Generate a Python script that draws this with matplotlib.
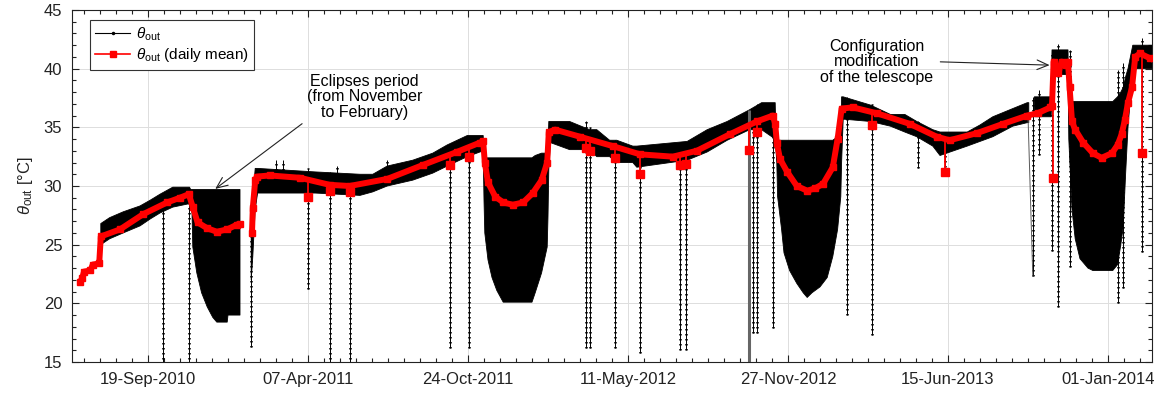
import numpy as np
import pandas as pd
import matplotlib
matplotlib.use('Agg')
import matplotlib.pyplot as plt
import matplotlib.dates as mdates
from matplotlib.lines import Line2D
from matplotlib.ticker import FixedLocator, MultipleLocator

plt.rcParams['font.family'] = ['Liberation Sans', 'DejaVu Sans']
plt.rcParams['mathtext.fontset'] = 'custom'
plt.rcParams['mathtext.rm'] = 'Liberation Sans'
plt.rcParams['mathtext.it'] = 'Liberation Sans:italic'

nan = np.nan

# daily mean of theta_out (red), NaN marks the data gap
mean_dates = ['2010-06-26', '2010-06-29', '2010-07-01', '2010-07-09', '2010-07-12', '2010-07-20',
              '2010-07-22', '2010-08-15', '2010-09-13', '2010-10-13', '2010-10-29', '2010-11-09',
              '2010-11-14', '2010-11-20', '2010-12-02', '2010-12-14', '2010-12-27', '2011-01-08',
              '2011-01-12', '2011-01-20',
              '2011-01-27', '2011-01-28', '2011-01-31', '2011-02-02', '2011-02-18', '2011-03-28',
              '2011-05-04', '2011-05-29', '2011-07-15', '2011-08-29', '2011-10-10', '2011-11-08',
              '2011-11-12', '2011-11-14', '2011-11-18', '2011-11-27', '2011-12-07', '2011-12-19',
              '2012-01-01', '2012-01-13', '2012-01-24', '2012-01-31', '2012-02-02', '2012-02-10',
              '2012-03-12', '2012-04-22', '2012-05-26', '2012-07-06', '2012-08-05', '2012-09-15',
              '2012-10-19', '2012-11-08', '2012-11-11', '2012-11-13', '2012-11-17', '2012-11-26',
              '2012-12-08', '2012-12-21', '2012-12-31', '2013-01-10', '2013-01-22', '2013-01-28',
              '2013-02-02', '2013-02-16', '2013-03-18', '2013-04-28', '2013-06-01', '2013-06-17',
              '2013-07-21', '2013-08-23', '2013-09-22', '2013-10-05', '2013-10-21', '2013-10-23',
              '2013-10-25', '2013-10-31', '2013-11-04', '2013-11-09', '2013-11-12', '2013-11-14',
              '2013-11-17', '2013-11-21', '2013-12-01', '2013-12-13', '2013-12-24', '2014-01-06',
              '2014-01-13', '2014-01-18', '2014-01-22', '2014-01-26', '2014-01-31', '2014-02-04',
              '2014-02-10', '2014-02-22', '2014-03-03']
mean_vals = [21.8, 22.2, 22.7, 22.8, 23.3, 23.4,
             25.7, 26.3, 27.6, 28.6, 29.0, 29.3,
             28.2, 26.9, 26.4, 26.1, 26.3, 26.7,
             26.8, nan,
             26.0, 28.1, 30.5, 30.8, 30.9, 30.7,
             30.1, 30.0, 30.6, 31.8, 32.9, 33.7,
             33.8, 32.0, 30.3, 29.1, 28.6, 28.4,
             28.6, 29.4, 30.5, 32.0, 34.6, 34.8,
             34.2, 33.4, 32.7, 32.5, 33.0, 34.4,
             35.5, 36.0, 35.3, 33.7, 32.3, 31.2,
             30.0, 29.6, 29.8, 30.2, 31.6, 34.0,
             36.6, 36.7, 36.2, 35.3, 34.2, 33.9,
             34.5, 35.3, 36.0, 36.2, 36.7, 36.8,
             40.6, 39.6, 40.6, 40.3, 40.6, 38.4,
             35.5, 34.8, 33.7, 32.8, 32.4, 32.8,
             33.5, 34.4, 35.6, 37.1, 38.4, 41.0,
             41.3, 40.9, 40.6]

# single days where the daily mean drops off the curve
drop_dates = ['2011-04-07', '2011-05-04', '2011-05-29', '2011-10-01', '2011-10-25', '2012-03-19',
              '2012-03-24', '2012-04-25', '2012-05-26', '2012-07-15', '2012-07-22', '2012-10-09',
              '2012-10-19', '2013-03-12', '2013-06-11', '2013-10-24', '2014-02-12']
drop_vals = [29.1, 29.6, 29.5, 31.8, 32.5, 33.2, 33.0, 32.4, 31.0, 31.8, 31.9, 33.1,
             34.6, 35.2, 31.2, 30.7, 32.8]
drop_base = [30.7, 30.1, 30.0, 32.6, 33.3, 34.1, 34.0, 33.3, 32.7, 32.6, 32.7, 35.2,
             35.5, 36.3, 34.0, 40.6, 41.2]

# envelope (max / min) of the raw theta_out samples, the black band
band_dates = ['2010-07-22', '2010-08-02', '2010-08-19', '2010-09-09', '2010-09-22', '2010-10-04', '2010-10-20', '2010-11-10',
              '2010-11-11', '2010-11-13', '2010-11-14', '2010-11-19', '2010-11-25', '2010-12-02', '2010-12-09',
              '2010-12-14', '2010-12-27', '2010-12-28', '2011-01-12', '2011-01-20',
              '2011-01-26', '2011-01-28', '2011-01-31', '2011-02-03', '2011-04-16', '2011-06-11', '2011-06-27',
              '2011-07-15', '2011-08-16', '2011-09-10', '2011-09-28', '2011-10-23', '2011-11-12',
              '2011-11-13', '2011-11-14', '2011-11-18', '2011-11-23', '2011-11-29', '2011-12-07',
              '2012-01-12', '2012-01-16', '2012-01-24', '2012-01-31', '2012-02-01', '2012-02-02', '2012-02-04',
              '2012-02-28', '2012-03-24', '2012-04-02', '2012-04-18', '2012-04-27', '2012-05-17', '2012-05-22',
              '2012-07-24', '2012-08-18', '2012-09-12', '2012-10-10', '2012-10-25', '2012-11-11',
              '2012-11-12', '2012-11-13', '2012-11-14', '2012-11-19', '2012-11-22', '2012-11-29', '2012-12-08',
              '2012-12-16', '2012-12-21', '2012-12-27', '2013-01-06', '2013-01-15', '2013-01-22',
              '2013-01-28', '2013-02-01', '2013-02-02', '2013-02-04',
              '2013-03-10', '2013-04-04', '2013-04-22', '2013-05-07', '2013-05-27', '2013-06-05',
              '2013-07-09', '2013-07-25', '2013-08-10', '2013-09-04', '2013-09-22', '2013-09-24', '2013-09-27',
              '2013-10-01', '2013-10-22', '2013-10-23', '2013-11-12', '2013-11-13', '2013-11-17', '2013-11-21',
              '2013-11-27', '2013-12-07', '2013-12-13', '2014-01-07', '2014-01-13', '2014-01-17',
              '2014-01-20', '2014-01-23', '2014-01-26', '2014-02-01', '2014-03-03']
band_hi = [26.8, 27.3, 27.8, 28.3, 28.8, 29.3, 29.9, 29.9,
           29.7, 29.7, 29.7, 29.7, 29.7, 29.7, 29.7,
           29.7, 29.7, 29.7, 29.7, nan,
           27.0, 29.0, 31.5, 31.5, 31.2, 31.0, 31.0,
           31.7, 32.2, 32.8, 33.5, 34.3, 34.3,
           32.4, 32.4, 32.4, 32.4, 32.4, 32.4,
           32.4, 32.6, 32.8, 32.8, 33.5, 35.5, 35.5,
           35.5, 34.8, 34.8, 33.9, 33.9, 33.4, 33.4,
           33.8, 34.8, 35.5, 36.5, 37.1, 37.1,
           33.9, 33.9, 33.9, 33.9, 33.9, 33.9, 33.9,
           33.9, 33.9, 33.9, 33.9, 33.9, 33.9,
           34.2, 34.5, 37.6, 37.6,
           36.9, 36.1, 36.1, 35.5, 34.8, 34.6,
           34.6, 35.2, 35.9, 36.6, 37.1, 37.1, nan,
           37.6, 37.6, 41.6, 41.6, 37.2, 37.2, 37.2,
           37.2, 37.2, 37.2, 37.2, 37.6, 38.0,
           38.4, 39.3, 40.0, 42.0, 42.0]
band_lo = [25.0, 25.5, 26.0, 26.6, 27.2, 27.7, 28.2, 28.5,
           28.5, 27.7, 24.8, 22.6, 20.9, 19.7, 18.8,
           18.4, 18.4, 19.0, 19.0, nan,
           22.0, 24.0, 28.0, 29.4, 29.4, 29.2, 29.5,
           30.0, 30.5, 31.1, 31.7, 32.5, 33.0,
           28.8, 26.0, 23.7, 22.2, 21.1, 20.1,
           20.1, 20.9, 22.6, 24.8, 27.4, 31.4, 33.7,
           33.1, 33.1, 32.5, 32.5, 32.0, 32.0, 31.6,
           32.2, 32.9, 33.9, 34.8, 34.8, 34.0,
           33.0, 32.0, 29.1, 26.3, 24.3, 22.8, 21.7,
           20.9, 20.5, 20.9, 21.4, 22.2, 24.0,
           26.3, 29.1, 32.0, 35.7,
           35.5, 35.1, 34.6, 34.2, 33.4, 32.6,
           33.4, 33.8, 34.2, 35.1, 35.4, 35.4, nan,
           35.9, 35.9, 39.5, 39.5, 34.0, 28.0, 25.5,
           23.8, 23.0, 22.8, 22.8, 23.3, 25.0,
           26.5, 31.0, 35.0, 40.0, 40.0]

# isolated excursions of the raw samples
spike_dates = ['2010-10-08', '2010-11-09', '2011-01-26', '2011-04-07', '2011-05-04', '2011-05-29',
               '2011-10-01', '2011-10-25', '2012-03-19', '2012-03-24', '2012-04-25', '2012-05-26',
               '2012-07-15', '2012-07-22', '2012-10-14', '2012-10-19', '2012-11-08', '2013-02-09',
               '2013-03-12', '2013-05-08', '2013-06-11', '2013-09-29', '2013-10-07', '2013-10-23',
               '2013-10-31', '2013-11-14', '2014-01-13', '2014-01-20', '2014-02-12',
               '2011-02-26', '2011-03-07', '2011-05-13', '2011-07-15']
spike_lo = [14.0, 14.0, 16.3, 21.2, 14.0, 14.0,
            16.2, 16.2, 16.2, 16.2, 16.2, 15.8,
            16.0, 16.0, 17.5, 17.5, 17.9, 19.0,
            17.3, 31.5, 31.2, 22.3, 32.6, 24.5,
            19.7, 23.1, 20.0, 21.3, 24.4,
            31.4, 31.4, 31.0, 31.5]
spike_hi = [28.5, 29.8, 27.0, 31.5, 31.2, 31.0,
            32.8, 34.3, 35.5, 35.0, 33.9, 33.4,
            33.5, 33.6, 36.5, 37.0, 37.1, 37.6,
            37.0, 35.5, 34.6, 37.6, 38.2, 41.5,
            42.1, 41.6, 39.9, 40.5, 42.6,
            32.2, 32.2, 31.7, 32.2]

# sensor line crossing the gap, and the one excursion drawn in grey
gap_dates = ['2013-09-23', '2013-09-29']
gap_vals = [36.0, 22.3]
grey_date = '2012-10-09'
grey_lo, grey_hi = 14.0, 36.5

tick_dates = ['2010-09-19', '2011-04-07', '2011-10-24', '2012-05-11',
              '2012-11-27', '2013-06-15', '2014-01-01']


def num(d):
    return mdates.date2num(pd.to_datetime(d))


fig = plt.figure(figsize=(11.61, 4.01), dpi=100)
ax = fig.add_axes([72 / 1161, 39 / 401, 1080 / 1161, 352 / 401])

bx = num(band_dates)
ax.fill_between(bx, np.array(band_lo), np.array(band_hi), color='k', lw=0.6,
                edgecolor='k', zorder=2)

sx = num(spike_dates)
ax.vlines(sx, spike_lo, spike_hi, color='k', lw=0.7, zorder=2)
ax.vlines(sx, spike_lo, spike_hi, color='k', lw=1.8, linestyles=[(0, (0.6, 1.4))], zorder=2)
ax.vlines(num(grey_date), grey_lo, grey_hi, color='0.4', lw=2.2, zorder=2)
ax.plot(num(gap_dates), gap_vals, color='0.35', lw=0.7, zorder=2)

mx = num(mean_dates)
ax.plot(mx, mean_vals, color='red', lw=4.3, solid_capstyle='butt',
        solid_joinstyle='round', marker='s', ms=4.5, mec='red', zorder=3)
dx = num(drop_dates)
ax.vlines(dx, drop_vals, drop_base, color='red', lw=1.3, zorder=3)
ax.plot(dx, drop_vals, ls='none', marker='s', ms=5.5, color='red', zorder=3)

ax.set_xlim(num('2010-06-16'), num('2014-02-25'))
ax.set_ylim(15, 45)

ticks = num(tick_dates)
ax.xaxis.set_major_locator(FixedLocator(ticks))
ax.xaxis.set_minor_locator(FixedLocator(np.arange(ticks[0] - 100, ticks[-1] + 80, 20)))
ax.xaxis.set_major_formatter(mdates.DateFormatter('%d-%b-%Y'))
ax.yaxis.set_major_locator(MultipleLocator(5))
ax.yaxis.set_minor_locator(MultipleLocator(1))
ax.tick_params(which='both', direction='in', top=True, right=True,
               labelsize=12, colors='#222222', width=0.8)
ax.tick_params(which='major', length=5, pad=7)
ax.tick_params(which='minor', length=3)
ax.grid(True, which='major', color='#dddddd', lw=0.7, zorder=0)
ax.set_axisbelow(True)
for s in ax.spines.values():
    s.set_linewidth(0.8)
    s.set_color('#222222')

ax.set_ylabel(r'$\theta_{\mathrm{out}}$ [°C]', fontsize=12, color='#222222', labelpad=6)

handles = [Line2D([], [], color='k', lw=0.8, marker='.', ms=3),
           Line2D([], [], color='red', lw=1.2, marker='s', ms=5)]
leg = ax.legend(handles, [r'$\theta_{\mathrm{out}}$', r'$\theta_{\mathrm{out}}$ (daily mean)'],
                loc='upper left', bbox_to_anchor=(0.0165, 0.972), borderaxespad=0,
                fontsize=11, fancybox=False, framealpha=1, edgecolor='#333333',
                handlelength=2.3, handletextpad=0.4, borderpad=0.35, labelspacing=0.25)
leg.get_frame().set_linewidth(0.8)

ax.annotate('Eclipses period\n(from November\nto February)',
            xy=(num('2010-12-12'), 29.75), xytext=(num('2011-06-17'), 37.6),
            ha='center', va='center', fontsize=11.5, linespacing=1.05,
            arrowprops=dict(arrowstyle='->,head_length=0.7,head_width=0.3', lw=0.8,
                            color='#222222', relpos=(0.0, 0.0), shrinkA=2, shrinkB=0))
ax.annotate('Configuration\nmodification\nof the telescope',
            xy=(num('2013-10-20'), 40.3), xytext=(num('2013-03-18'), 40.6),
            ha='center', va='center', fontsize=11.5, linespacing=1.05,
            arrowprops=dict(arrowstyle='->,head_length=0.7,head_width=0.3', lw=0.8,
                            color='#222222', relpos=(1.0, 0.5), shrinkA=3, shrinkB=0))

fig.savefig('out.png', dpi=100)
